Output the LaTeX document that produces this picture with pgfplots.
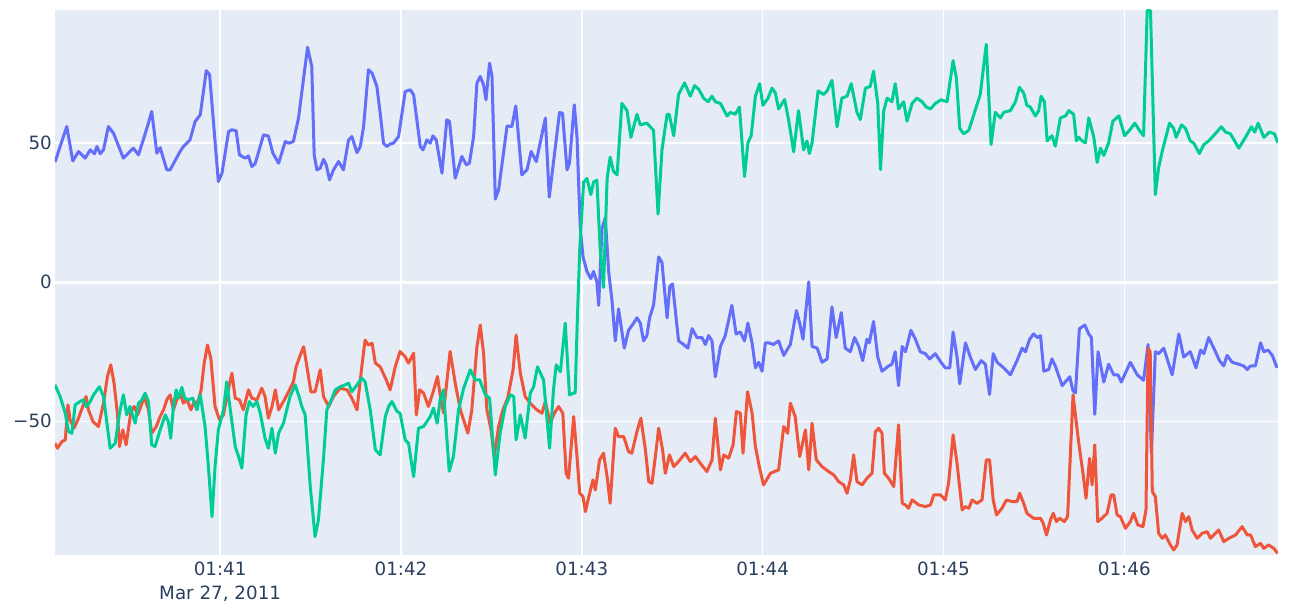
\documentclass[border=0pt]{standalone}
\usepackage{fontspec}
\setmainfont{DejaVu Sans}
\usepackage{pgfplots}
\pgfplotsset{compat=1.18}
\definecolor{pbg}{HTML}{E5ECF6}
\definecolor{pblue}{HTML}{636EFA}
\definecolor{pred}{HTML}{EF553B}
\definecolor{pgreen}{HTML}{00CC96}
\definecolor{ptext}{HTML}{2A3F5F}
\begin{document}
\begin{tikzpicture}
\useasboundingbox (0,0) rectangle (1294pt,608pt);
\begin{axis}[
  at={(55pt,53pt)}, anchor=south west,
  width=1223pt, height=545pt, scale only axis,
  xmin=5.2, xmax=411, ymin=-98.1, ymax=97.9,
  axis background/.style={fill=pbg},
  axis line style={draw=none},
  major tick length=0pt,
  xtick={60,120,180,240,300,360},
  xticklabels={{01:41\\Mar 27, 2011},01:42,01:43,01:44,01:45,01:46},
  ytick={-50,50}, yticklabels={−50,50},
  extra y ticks={0}, extra y tick labels={0},
  extra y tick style={grid=major, grid style={white, line width=3pt}},
  grid=major, grid style={white, line width=1.5pt},
  tick label style={font=\fontsize{18.3}{24}\selectfont, text=ptext},
  xticklabel style={anchor=north, inner sep=0pt, yshift=-7pt, align=center},
  yticklabel style={anchor=east, inner sep=0pt, xshift=-3pt},
  every axis plot/.append style={line width=3pt, line join=round},
]
\addplot[pblue] table {
5.2 43.2
9.1 56.0
11.1 43.6
13.0 47.0
15.2 44.6
16.9 47.6
18.3 46.2
19.1 48.8
20.2 46.2
21.3 47.6
22.9 56.0
24.6 53.6
27.9 44.6
31.2 48.2
32.9 45.8
35.7 55.4
37.3 61.4
39.0 46.4
40.1 48.4
42.3 40.4
43.4 40.4
46.7 47.0
47.8 48.8
50.0 51.2
51.7 57.8
53.4 60.2
55.4 76.1
56.5 74.6
59.4 36.2
60.6 39.2
62.8 54.2
63.9 54.8
65.3 54.5
66.4 45.8
68.3 44.6
69.4 45.4
70.5 41.6
71.6 42.6
74.4 53.0
76.0 52.6
77.5 46.4
79.4 42.8
81.6 50.6
82.7 50.0
84.3 50.6
86.0 59.0
89.0 84.5
90.4 77.6
91.2 45.8
92.1 40.4
93.2 41.0
94.3 44.2
95.2 42.2
96.3 36.8
97.6 40.4
99.3 43.4
100.9 40.4
102.6 51.2
103.7 52.4
105.4 46.6
106.5 48.8
107.6 56.0
109.2 76.4
110.4 75.2
112.0 70.4
113.1 60.8
114.2 50.0
115.3 48.8
116.4 49.7
117.5 50.0
119.2 52.4
121.4 68.6
123.1 69.2
124.2 67.4
126.4 48.8
127.3 47.6
128.6 51.2
129.7 50.0
130.6 52.6
131.7 51.2
133.6 39.2
135.2 58.4
136.1 57.8
138.0 37.4
140.2 45.2
141.7 42.2
142.7 42.8
144.1 52.4
145.2 71.6
146.3 74.0
147.4 71.0
148.2 65.6
149.4 78.8
150.2 74.0
151.3 29.9
152.4 33.2
155.2 56.2
156.8 56.0
158.1 63.4
160.1 38.6
161.8 40.4
163.2 47.0
164.9 43.4
167.9 59.0
169.2 30.6
172.6 61.0
173.6 60.8
175.1 40.4
175.9 42.8
177.5 63.8
178.4 52.4
178.9 36.8
179.5 19.3
180.4 9.1
181.7 3.9
183.0 1.3
183.9 3.9
185.0 0.1
185.6 -8.3
186.7 19.3
187.8 23.2
188.9 3.9
190.0 -6.4
191.1 -21.1
192.2 -9.6
194.1 -23.7
195.5 -17.3
197.2 -14.7
198.3 -12.8
199.4 -14.7
200.5 -21.1
201.6 -19.2
202.5 -12.8
203.8 -8.3
205.5 9.1
206.6 7.1
208.3 -12.8
209.2 -1.5
210.1 -0.6
212.1 -21.1
213.8 -22.4
215.2 -23.7
216.6 -16.7
218.2 -19.9
219.9 -19.9
221.0 -22.4
222.1 -19.2
223.2 -21.1
224.3 -34.0
226.0 -23.1
227.6 -19.2
229.8 -8.3
231.2 -18.6
232.6 -17.9
234.0 -21.1
235.1 -14.7
236.5 -21.8
237.6 -30.8
238.7 -28.8
239.8 -32.0
240.9 -21.8
242.0 -21.8
243.6 -22.4
245.3 -21.1
247.0 -26.3
249.2 -22.4
251.2 -10.2
252.3 -14.7
253.4 -20.5
255.3 0.1
256.4 -23.1
258.1 -23.7
259.7 -28.8
261.4 -27.6
263.0 -8.9
264.4 -19.9
266.1 -10.9
267.4 -23.7
269.1 -25.0
270.5 -19.9
271.9 -23.1
273.2 -28.2
274.6 -20.5
275.4 -21.8
276.8 -14.1
278.2 -26.9
279.6 -32.0
281.8 -30.1
282.9 -29.5
284.0 -25.0
285.1 -37.2
286.3 -23.1
287.4 -25.0
289.2 -17.3
290.7 -20.5
292.3 -25.0
294.0 -25.7
295.4 -27.6
297.3 -25.7
299.0 -28.5
300.6 -30.8
302.1 -30.8
303.2 -17.9
304.5 -26.9
305.4 -36.5
307.3 -21.8
308.9 -26.9
310.6 -31.4
312.5 -28.2
313.9 -29.5
315.3 -40.4
316.5 -25.7
317.8 -28.8
320.0 -30.8
322.2 -33.3
324.4 -28.2
326.1 -23.7
327.2 -25.0
328.6 -20.5
329.9 -18.6
331.1 -19.9
332.2 -19.2
333.3 -32.0
334.9 -31.4
336.0 -27.6
337.1 -30.1
339.4 -37.2
341.9 -34.0
343.0 -39.1
343.8 -39.8
345.1 -16.7
346.9 -15.4
348.2 -18.6
349.1 -19.9
350.2 -47.5
351.3 -25.0
353.2 -35.9
354.8 -29.5
356.5 -33.3
357.9 -33.3
359.0 -35.9
362.0 -28.8
364.3 -33.3
366.4 -35.3
367.9 -22.4
369.0 -61.6
370.3 -25.0
371.4 -25.7
373.1 -23.7
375.9 -33.3
378.1 -18.6
379.7 -26.9
381.9 -25.0
383.8 -30.8
385.3 -24.4
386.4 -25.7
388.0 -19.9
389.7 -23.7
391.6 -28.2
393.0 -30.1
394.1 -26.3
395.8 -28.8
398.0 -29.5
399.6 -30.1
400.8 -31.4
401.9 -30.1
403.5 -30.1
405.2 -21.8
406.3 -25.0
407.7 -24.4
409.1 -26.3
410.7 -30.8
};
\addplot[pred] table {
5.2 -57.9
6.0 -59.7
7.5 -57.3
8.6 -56.7
9.5 -44.1
10.2 -49.5
11.5 -52.5
13.0 -48.9
14.6 -44.1
15.5 -41.1
16.3 -45.9
17.8 -50.1
19.6 -51.9
21.3 -43.5
22.6 -33.9
23.7 -29.7
24.8 -36.3
25.9 -47.1
26.6 -59.1
27.7 -53.1
28.8 -58.5
30.4 -46.5
31.5 -44.7
32.6 -47.7
33.7 -44.7
34.8 -41.1
36.2 -45.9
37.3 -54.3
38.8 -51.9
40.1 -48.3
41.2 -45.9
42.3 -42.3
43.4 -40.5
44.5 -45.9
45.6 -42.3
46.7 -39.9
47.8 -43.5
49.0 -42.3
50.3 -45.9
51.4 -42.9
52.5 -43.5
53.7 -38.7
54.7 -29.1
55.8 -22.6
56.9 -27.3
58.3 -44.7
59.8 -49.5
61.1 -47.7
62.8 -38.1
63.9 -32.7
65.0 -41.7
66.4 -42.3
67.7 -45.9
69.4 -38.7
70.5 -41.7
72.2 -42.3
73.8 -38.1
74.9 -41.1
76.0 -48.9
77.2 -44.7
78.3 -38.7
79.4 -45.9
81.0 -42.9
82.7 -39.4
84.3 -35.8
85.2 -30.4
86.6 -26.2
87.7 -23.2
88.8 -30.4
90.1 -39.4
91.5 -39.4
93.2 -31.5
94.3 -41.1
96.0 -44.7
97.6 -41.1
99.8 -38.1
102.1 -38.7
103.7 -41.7
105.4 -45.9
107.0 -30.4
108.1 -20.8
109.2 -22.6
110.4 -21.9
111.5 -29.1
113.1 -30.4
115.1 -35.1
116.4 -38.7
118.1 -30.4
119.7 -24.9
121.4 -26.8
122.5 -29.1
124.2 -25.5
125.1 -47.7
126.2 -38.7
127.5 -39.9
129.1 -44.7
130.8 -39.0
132.1 -33.9
133.0 -40.5
134.1 -47.0
136.3 -24.9
138.0 -36.3
139.7 -45.9
142.2 -54.3
143.5 -45.9
145.2 -23.2
146.3 -15.4
147.4 -25.5
148.5 -45.9
149.9 -53.1
150.9 -62.7
152.4 -51.9
153.8 -45.9
155.4 -41.7
157.2 -31.5
158.2 -19.0
159.6 -32.7
161.2 -41.1
162.9 -43.5
165.1 -45.9
166.8 -47.1
167.9 -42.9
169.5 -50.7
170.9 -47.1
172.3 -44.7
173.7 -47.1
174.8 -68.7
175.6 -70.5
177.3 -48.3
178.4 -62.7
179.3 -75.9
180.4 -77.1
181.2 -82.5
182.2 -77.7
183.7 -71.1
184.5 -74.7
185.9 -63.9
187.2 -61.5
188.4 -69.9
189.4 -79.5
191.1 -52.5
192.2 -55.5
193.9 -55.5
195.5 -60.9
196.6 -61.5
198.3 -53.7
199.6 -48.9
201.1 -60.3
202.2 -71.7
203.3 -72.3
204.4 -62.7
205.5 -52.5
206.8 -60.3
207.7 -68.7
209.1 -62.1
210.5 -66.3
212.1 -64.5
214.3 -61.5
216.0 -64.5
217.7 -62.7
219.3 -65.1
221.5 -68.1
223.2 -63.9
224.3 -48.9
226.0 -67.5
227.1 -62.1
228.7 -63.3
230.2 -58.5
231.3 -46.5
232.6 -47.1
233.5 -61.5
235.0 -39.4
236.5 -47.1
237.6 -59.1
239.0 -66.9
240.3 -72.9
242.6 -68.7
245.3 -67.5
247.0 -51.9
248.3 -54.3
249.2 -43.5
250.8 -48.3
252.3 -62.7
254.2 -53.1
255.3 -67.5
256.4 -50.7
257.8 -63.9
259.7 -66.3
261.9 -68.1
263.6 -69.3
265.2 -71.7
266.9 -72.9
268.0 -75.9
269.1 -71.1
270.2 -62.1
271.3 -71.7
273.0 -72.9
274.6 -70.5
276.3 -68.7
277.4 -53.7
278.5 -52.5
279.6 -54.3
280.4 -68.7
281.8 -70.5
283.5 -73.5
285.1 -51.3
286.3 -79.5
287.4 -80.1
288.4 -81.3
289.6 -78.3
291.8 -80.1
294.0 -80.7
295.7 -80.1
296.8 -76.5
299.0 -76.5
300.6 -78.3
301.7 -72.3
303.2 -54.9
304.5 -65.1
306.2 -81.9
307.3 -80.7
308.4 -81.3
309.5 -78.3
311.1 -79.5
312.8 -78.3
314.2 -63.9
315.3 -63.9
316.5 -78.3
317.6 -83.7
319.4 -81.3
320.9 -78.3
322.8 -78.9
324.4 -78.9
325.3 -75.9
326.6 -79.5
327.7 -83.1
329.9 -84.9
332.2 -84.9
333.1 -86.7
334.2 -90.9
335.5 -85.5
336.4 -83.1
337.5 -86.1
338.6 -84.9
340.1 -86.1
341.2 -84.3
342.1 -62.1
343.0 -40.5
344.1 -50.7
344.9 -57.9
346.3 -68.7
347.3 -77.7
348.5 -63.3
349.3 -72.9
350.2 -58.5
351.2 -86.1
352.6 -84.9
354.3 -83.1
355.6 -76.5
356.5 -76.5
357.6 -83.7
358.7 -84.3
360.4 -88.5
362.0 -86.1
363.1 -83.1
364.5 -87.3
366.2 -87.9
367.2 -81.9
367.9 -23.7
368.6 -25.0
369.3 -75.3
370.3 -77.1
371.4 -90.3
372.6 -92.1
373.6 -90.9
375.3 -94.5
376.4 -96.3
377.5 -94.5
379.2 -83.1
380.3 -86.1
381.4 -84.3
382.5 -89.1
384.2 -92.1
385.8 -90.3
387.5 -89.7
388.6 -92.1
389.7 -90.9
391.3 -89.1
393.0 -93.3
394.7 -92.1
396.9 -90.9
399.1 -87.9
400.8 -90.9
401.9 -90.9
403.5 -95.1
405.2 -93.9
406.3 -95.7
407.9 -94.5
409.6 -95.7
410.9 -97.5
};
\addplot[pgreen] table {
5.2 -36.9
6.9 -41.1
8.6 -47.1
9.7 -53.7
10.8 -54.3
11.9 -44.1
13.5 -42.9
14.6 -42.3
15.5 -44.7
16.6 -43.5
18.0 -40.5
19.9 -37.6
21.3 -41.1
23.5 -59.7
25.2 -57.9
26.6 -47.1
27.9 -40.5
29.0 -47.7
30.1 -44.7
31.8 -50.7
32.9 -43.5
34.0 -42.3
35.1 -39.9
36.2 -42.9
37.3 -58.5
38.4 -59.1
40.1 -53.1
41.8 -47.7
42.8 -50.1
43.6 -56.1
44.5 -44.7
45.4 -38.7
46.2 -41.7
47.3 -37.8
48.2 -41.7
49.5 -42.3
50.9 -41.7
52.3 -45.9
53.4 -40.5
55.0 -51.9
56.1 -66.3
57.3 -84.3
58.3 -66.3
59.4 -53.1
61.1 -45.9
62.2 -35.8
63.3 -45.3
65.0 -59.1
66.1 -62.7
67.2 -66.9
68.6 -47.7
69.7 -42.9
70.9 -44.7
72.2 -42.9
73.3 -47.1
74.9 -56.1
76.0 -59.7
77.2 -52.5
78.3 -61.5
79.4 -54.3
81.0 -50.7
83.2 -41.1
84.9 -36.9
86.0 -40.5
87.1 -44.7
88.2 -47.7
89.9 -73.5
91.5 -91.5
92.6 -85.5
94.3 -63.3
95.4 -45.9
97.1 -41.7
98.2 -38.7
99.8 -37.6
101.5 -36.9
102.6 -36.3
103.7 -39.4
105.4 -36.9
107.0 -34.5
108.1 -35.8
109.8 -45.9
111.5 -60.3
113.1 -62.1
114.8 -48.3
115.9 -44.7
117.0 -42.9
118.7 -46.5
119.7 -47.1
121.4 -56.7
122.5 -57.9
124.2 -69.9
125.8 -52.5
127.5 -51.9
129.7 -48.3
130.8 -45.3
132.0 -50.7
133.0 -42.3
134.1 -38.7
136.0 -68.0
137.4 -62.7
139.1 -45.9
140.8 -38.1
143.0 -31.5
144.6 -35.1
146.1 -35.1
148.0 -40.5
149.4 -41.7
151.3 -69.3
152.9 -54.3
154.6 -44.7
156.3 -40.5
157.4 -41.1
158.2 -56.7
159.6 -47.7
161.2 -56.1
162.9 -39.9
164.0 -37.6
165.3 -30.4
167.3 -35.1
169.3 -59.7
170.6 -38.7
171.5 -29.7
172.9 -32.2
174.5 -14.7
175.9 -40.5
177.3 -39.9
177.8 -39.8
178.5 -14.1
179.3 11.6
180.6 36.0
181.7 37.3
183.0 31.5
183.9 36.0
185.0 36.7
186.1 11.6
187.2 -1.9
188.4 37.3
189.4 45.0
190.5 39.9
191.7 38.6
193.3 64.3
195.0 61.7
196.3 52.1
198.3 60.4
199.4 56.6
201.6 57.2
203.8 54.6
205.3 24.5
206.6 47.6
208.3 60.4
209.0 60.4
210.5 52.7
212.1 67.5
214.1 71.7
216.0 66.9
217.4 70.7
218.8 69.4
220.4 66.2
221.9 64.9
223.2 66.9
224.3 64.9
226.0 64.3
228.2 59.8
229.3 61.1
230.9 60.4
232.3 63.0
234.0 38.0
235.1 50.1
236.2 52.7
237.6 66.9
239.0 71.4
240.1 63.6
241.8 66.2
243.1 69.8
244.2 68.1
245.3 62.3
247.3 65.7
248.6 58.5
250.3 46.9
251.9 61.7
253.6 47.6
254.7 50.8
255.5 46.3
256.4 50.1
258.4 68.8
260.2 67.5
261.4 68.8
263.0 72.6
264.7 55.9
266.3 66.2
268.0 66.9
269.4 71.4
271.3 61.1
272.4 58.5
274.1 69.8
275.7 70.4
276.8 75.9
278.2 64.3
279.1 40.5
280.2 61.7
281.3 66.2
282.9 64.9
284.0 71.4
285.1 62.3
286.8 64.9
287.9 57.9
289.6 64.3
291.2 66.2
292.9 64.9
294.3 63.0
295.7 62.3
297.3 64.3
299.2 65.6
301.2 64.9
303.2 79.7
304.3 73.3
305.4 55.3
306.7 53.4
308.4 54.6
312.2 67.5
314.2 85.5
315.8 49.5
317.2 61.1
318.9 59.1
320.0 61.1
322.2 61.7
323.9 64.9
325.2 70.1
326.6 68.1
327.7 63.6
328.8 63.0
330.5 59.8
331.6 61.7
332.4 66.9
333.5 64.9
334.4 50.8
336.0 52.7
337.1 48.9
338.8 59.1
340.5 59.8
341.6 61.7
343.2 60.4
344.1 50.8
344.9 52.1
346.0 50.8
347.1 50.1
348.2 59.1
349.9 52.1
351.0 43.1
352.1 48.2
353.2 45.6
354.8 50.1
356.2 57.9
358.2 59.8
360.1 52.7
361.7 54.6
363.5 57.2
365.0 54.6
366.4 52.7
367.6 97.7
368.7 97.7
370.3 31.5
371.4 41.2
372.7 47.6
375.0 57.2
376.4 55.3
377.2 52.1
379.0 56.6
380.3 55.3
381.9 50.8
383.0 50.1
384.9 46.3
386.4 49.5
388.0 50.8
390.2 53.4
392.2 55.9
393.6 54.0
395.2 53.4
398.0 48.2
400.2 52.1
402.2 55.9
403.3 54.0
404.4 57.2
406.3 52.1
408.2 54.0
409.8 53.4
411.0 50.1
};
\end{axis}
\end{tikzpicture}
\end{document}
